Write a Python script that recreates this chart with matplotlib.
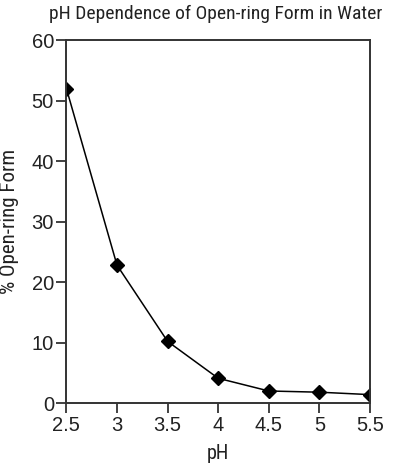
import matplotlib
matplotlib.use("Agg")
import matplotlib.pyplot as plt

ph = [2.5, 3.0, 3.5, 4.0, 4.5, 5.0, 5.5]
open_ring = [52.0, 22.8, 10.2, 4.1, 2.0, 1.8, 1.4]
x_ticks = [2.5, 3, 3.5, 4, 4.5, 5, 5.5]
x_tick_labels = ["2.5", "3", "3.5", "4", "4.5", "5", "5.5"]
y_ticks = [0, 10, 20, 30, 40, 50, 60]

plt.rcParams['font.family'] = ['Liberation Sans', 'DejaVu Sans']
cond = ['Roboto Condensed', 'Liberation Sans', 'DejaVu Sans']

fig = plt.figure(figsize=(4.0, 4.72), dpi=100)
ax = fig.add_axes([0.166, 0.146, 0.759, 0.769])

ax.plot(ph, open_ring, color="black", linewidth=1.1, marker="D", markersize=7.5,
        markerfacecolor="black", markeredgecolor="black")

ax.set_xlim(2.5, 5.5)
ax.set_ylim(0, 60)
ax.set_xticks(x_ticks)
ax.set_xticklabels(x_tick_labels)
ax.set_yticks(y_ticks)
ax.tick_params(direction="out", length=7, width=1.3, color="#333333", pad=2,
               labelsize=14.5, labelcolor="#222222")
for s in ax.spines.values():
    s.set_linewidth(1.4)
    s.set_color("#333333")

fig.text(0.54, 0.97, "pH Dependence of Open-ring Form in Water", ha="center", va="center",
         fontsize=14, family=cond, color="#222222")
ax.set_xlabel("pH", fontsize=14.5, family=cond, color="#222222", labelpad=7)
ax.set_ylabel("% Open-ring Form", fontsize=15, family=cond, color="#222222", labelpad=9)

fig.savefig("out.png", dpi=100)
